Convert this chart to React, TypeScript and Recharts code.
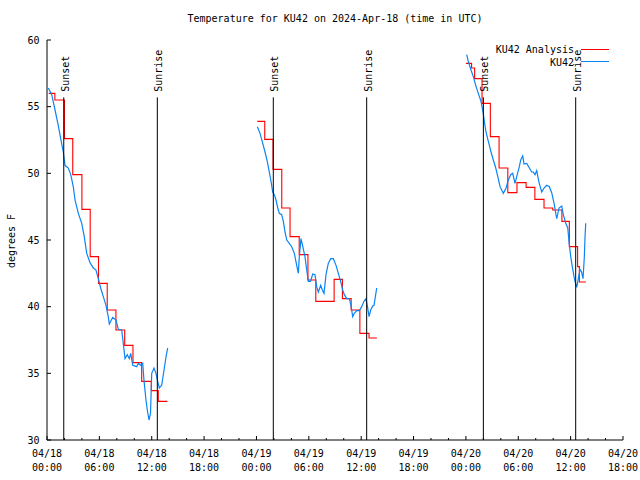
import React from 'react';
import { LineChart, Line, XAxis, YAxis, ReferenceLine } from 'recharts';

// hours since 04/18 00:00 UTC, one pair of arrays per night
const obsHours1 = [0.15, 0.54, 0.92, 1.29, 1.57, 1.87, 2.06, 2.44, 2.72, 3.01, 3.21, 3.59, 3.98, 4.27, 4.55, 4.93, 5.31, 5.61, 5.88, 6.15, 6.45, 6.76, 7.02, 7.14, 7.53, 7.91, 8.17, 8.56, 8.74, 8.94, 9.2, 9.43, 9.59, 9.82, 10.28, 10.46, 10.74, 10.97, 11.11, 11.34, 11.49, 11.69, 11.86, 12.0, 12.26, 12.49, 12.68, 12.87, 13.14, 13.41, 13.64, 13.83];
const obsTemps1 = [56.4, 55.9, 54.75, 53.6, 52.6, 51.6, 50.6, 50.4, 49.9, 49.0, 48.0, 47.0, 46.25, 45.25, 44.0, 43.3, 42.9, 42.75, 42.1, 41.4, 40.75, 40.1, 39.25, 38.7, 39.2, 39.0, 38.3, 38.25, 37.25, 36.1, 36.4, 36.1, 36.5, 35.6, 35.5, 35.75, 35.6, 35.75, 34.5, 33.0, 32.25, 31.5, 32.0, 35.0, 35.4, 35.0, 34.4, 33.9, 34.1, 35.25, 36.25, 36.9];

const obsHours2 = [24.1, 24.41, 24.72, 24.98, 25.24, 25.47, 25.67, 25.86, 26.05, 26.24, 26.44, 26.62, 26.89, 27.08, 27.27, 27.47, 27.76, 28.04, 28.34, 28.61, 28.8, 28.91, 29.1, 29.28, 29.56, 29.76, 29.94, 30.19, 30.45, 30.71, 30.9, 31.09, 31.36, 31.55, 31.74, 31.97, 32.23, 32.51, 32.81, 33.12, 33.38, 33.65, 33.88, 34.07, 34.34, 34.64, 34.83, 35.03, 35.21, 35.49, 35.79, 36.06, 36.32, 36.55, 36.75, 36.9, 37.09, 37.32, 37.47, 37.66, 37.78];
const obsTemps2 = [53.5, 53.0, 52.25, 51.6, 50.9, 50.1, 49.4, 48.6, 48.4, 48.0, 47.4, 47.0, 46.9, 46.4, 45.6, 45.0, 44.75, 44.5, 44.0, 43.1, 42.5, 43.75, 45.1, 44.6, 43.75, 42.75, 41.9, 41.9, 42.45, 42.4, 41.5, 41.1, 41.6, 41.25, 41.0, 42.4, 43.25, 43.6, 43.6, 43.1, 42.5, 41.9, 41.25, 40.9, 40.6, 40.6, 40.1, 39.25, 39.5, 39.7, 39.7, 40.0, 40.4, 40.6, 39.9, 39.25, 39.75, 40.05, 40.1, 40.9, 41.4];

const obsHours3 = [48.09, 48.27, 48.58, 48.85, 49.12, 49.42, 49.73, 49.99, 50.11, 50.3, 50.57, 50.88, 51.14, 51.42, 51.71, 51.91, 52.1, 52.29, 52.6, 52.86, 53.13, 53.36, 53.63, 53.82, 54.12, 54.28, 54.51, 54.66, 54.97, 55.27, 55.54, 55.72, 55.92, 56.11, 56.38, 56.69, 56.95, 57.26, 57.56, 57.83, 58.1, 58.32, 58.41, 58.67, 58.98, 59.16, 59.44, 59.67, 59.81, 60.01, 60.19, 60.39, 60.5, 60.7, 60.88, 61.07, 61.25, 61.42, 61.57, 61.65, 61.73];
const obsTemps3 = [58.9, 58.4, 57.75, 57.25, 56.6, 56.0, 55.4, 54.5, 53.9, 53.1, 52.4, 51.6, 51.0, 50.4, 49.6, 49.0, 48.75, 48.5, 48.9, 49.5, 49.9, 50.0, 49.25, 49.75, 50.5, 51.0, 51.3, 50.7, 50.75, 50.4, 50.1, 50.1, 49.9, 50.2, 49.3, 48.6, 48.9, 49.1, 49.0, 48.55, 47.75, 46.9, 46.6, 47.4, 47.55, 46.9, 46.25, 45.9, 44.9, 43.75, 43.0, 42.25, 41.9, 41.45, 42.1, 42.8, 42.6, 42.1, 43.75, 45.25, 46.25];

// hourly analysis (drawn as steps)
const anaHours1 = [0.2, 0.9, 2.0, 2.95, 4.0, 4.95, 5.9, 6.9, 7.9, 8.9, 9.85, 10.85, 11.95, 12.75, 13.8];
const anaTemps1 = [56.0, 55.5, 52.6, 49.9, 47.3, 43.75, 41.75, 39.75, 38.25, 37.1, 35.8, 34.4, 33.7, 32.9, 32.9];
const anaHours2 = [24.1, 24.95, 25.9, 26.9, 27.85, 28.9, 29.9, 30.8, 32.9, 33.85, 34.85, 35.85, 36.9, 37.8];
const anaTemps2 = [53.9, 52.55, 50.3, 47.4, 45.25, 43.9, 42.0, 40.4, 42.05, 40.6, 39.75, 38.0, 37.65, 37.65];
const anaHours3 = [48.0, 48.65, 49.0, 49.85, 50.8, 51.8, 52.8, 53.85, 54.9, 55.9, 56.95, 57.95, 59.0, 59.85, 60.8, 61.0, 61.75];
const anaTemps3 = [58.25, 57.9, 57.1, 55.25, 52.75, 50.4, 48.55, 49.3, 48.95, 48.05, 47.4, 47.25, 46.4, 44.5, 43.0, 41.85, 41.85];

const sunHours = [1.92, 12.64, 25.93, 36.63, 50.0, 60.58];
const sunLabels = ['Sunset', 'Sunrise', 'Sunset', 'Sunrise', 'Sunset', 'Sunrise'];
const sunLineTop = 55.7;

const xTicks = [0, 2, 4, 6, 8, 10, 12, 14, 16, 18, 20, 22, 24, 26, 28, 30, 32, 34, 36, 38, 40, 42, 44, 46, 48, 50, 52, 54, 56, 58, 60, 62, 64, 66];
const yTicks = [30, 35, 40, 45, 50, 55, 60];
const dayLabels = ['04/18', '04/19', '04/20'];

const FONT = '"DejaVu Sans Mono", "Liberation Mono", monospace';
const RED = '#ff0000';
const BLUE = '#0a84f5';

type Pt = { hour: number; temp: number | null };

const joinNights = (hours: number[][], temps: number[][]): Pt[] => {
  const out: Pt[] = [];
  hours.forEach((hs, i) => {
    if (i > 0) {
      const prev = hours[i - 1];
      out.push({ hour: (prev[prev.length - 1] + hs[0]) / 2, temp: null });
    }
    hs.forEach((h, j) => out.push({ hour: h, temp: temps[i][j] }));
  });
  return out;
};

const observed = joinNights([obsHours1, obsHours2, obsHours3], [obsTemps1, obsTemps2, obsTemps3]);
const analysis = joinNights([anaHours1, anaHours2, anaHours3], [anaTemps1, anaTemps2, anaTemps3]);

const pad = (n: number) => (n < 10 ? '0' + n : '' + n);

const BottomTick = (props: any) => {
  const { x, y, payload } = props;
  const h = payload.value as number;
  const major = h % 6 === 0;
  return (
    <g>
      <line x1={x} x2={x} y1={y} y2={y - (major ? 4 : 2)} stroke="#000" />
      {major && (
        <text x={x} y={y + 17} textAnchor="middle" fontSize={10} fontFamily={FONT} fill="#000">
          {dayLabels[Math.floor(h / 24)]}
        </text>
      )}
      {major && (
        <text x={x} y={y + 31} textAnchor="middle" fontSize={10} fontFamily={FONT} fill="#000">
          {pad(h % 24) + ':00'}
        </text>
      )}
    </g>
  );
};

const TopTick = (props: any) => {
  const { x, y, payload } = props;
  const major = (payload.value as number) % 6 === 0;
  return <line x1={x} x2={x} y1={y} y2={y + (major ? 4 : 2)} stroke="#000" />;
};

const LeftTick = (props: any) => {
  const { x, y, payload } = props;
  return (
    <g>
      <line x1={x} x2={x + 4} y1={y} y2={y} stroke="#000" />
      <text x={x - 7.5} y={y} dy="0.35em" textAnchor="end" fontSize={10} fontFamily={FONT} fill="#000">
        {payload.value}
      </text>
    </g>
  );
};

const RightTick = (props: any) => {
  const { x, y } = props;
  return <line x1={x} x2={x - 4} y1={y} y2={y} stroke="#000" />;
};

const SunLabel = (props: any) => {
  const { viewBox, text } = props;
  if (!viewBox) return null;
  const lx = viewBox.x + 5;
  const ly = viewBox.y - 5.5;
  return (
    <text
      x={lx}
      y={ly}
      transform={`rotate(-90, ${lx}, ${ly})`}
      textAnchor="start"
      fontSize={10}
      fontFamily={FONT}
      fill="#000"
    >
      {text}
    </text>
  );
};

const textStyle: React.CSSProperties = {
  position: 'absolute',
  fontFamily: FONT,
  fontSize: 10,
  lineHeight: '12px',
  color: '#000',
  whiteSpace: 'nowrap',
};

export default function App() {
  return (
    <div style={{ position: 'absolute', left: 0, top: 0, width: 640, height: 480, background: '#fff' }}>
      <LineChart width={640} height={480} data={observed} margin={{ top: 40, right: 17, bottom: 0, left: 0 }}>
        <XAxis
          dataKey="hour"
          type="number"
          domain={[0, 66]}
          ticks={xTicks}
          interval={0}
          height={40}
          tickSize={0}
          tickMargin={0}
          tick={<BottomTick />}
          axisLine={{ stroke: '#000' }}
          allowDataOverflow
        />
        <XAxis
          xAxisId="top"
          orientation="top"
          dataKey="hour"
          type="number"
          domain={[0, 66]}
          ticks={xTicks}
          interval={0}
          height={0}
          tickSize={0}
          tickMargin={0}
          tick={<TopTick />}
          axisLine={{ stroke: '#000' }}
          allowDataOverflow
        />
        <YAxis
          type="number"
          domain={[30, 60]}
          ticks={yTicks}
          interval={0}
          width={47}
          tickSize={0}
          tickMargin={0}
          tick={<LeftTick />}
          axisLine={{ stroke: '#000' }}
          allowDataOverflow
        />
        <YAxis
          yAxisId="right"
          orientation="right"
          type="number"
          domain={[30, 60]}
          ticks={yTicks}
          interval={0}
          width={0}
          tickSize={0}
          tickMargin={0}
          tick={<RightTick />}
          axisLine={{ stroke: '#000' }}
          allowDataOverflow
        />
        <Line
          data={analysis}
          dataKey="temp"
          type="stepAfter"
          stroke={RED}
          strokeWidth={1.1}
          dot={false}
          activeDot={false}
          isAnimationActive={false}
        />
        <Line
          data={observed}
          dataKey="temp"
          type="linear"
          stroke={BLUE}
          strokeWidth={1.2}
          dot={false}
          activeDot={false}
          isAnimationActive={false}
        />
        {sunHours.map((h, i) => (
          <ReferenceLine
            key={i}
            segment={[
              { x: h, y: 30 },
              { x: h, y: sunLineTop },
            ]}
            stroke="#000"
            strokeWidth={1}
            label={<SunLabel text={sunLabels[i]} />}
          />
        ))}
      </LineChart>

      <div style={{ ...textStyle, left: 335, top: 13, transform: 'translateX(-50%)' }}>
        Temperature for KU42 on 2024-Apr-18 (time in UTC)
      </div>
      <div style={{ ...textStyle, left: 12, top: 241, transform: 'translate(-50%, -50%) rotate(-90deg)' }}>
        degrees F
      </div>

      <div style={{ ...textStyle, left: 374, width: 200, top: 44, textAlign: 'right' }}>KU42 Analysis</div>
      <div style={{ ...textStyle, left: 374, width: 200, top: 57, textAlign: 'right' }}>KU42</div>
      <svg width={640} height={480} style={{ position: 'absolute', left: 0, top: 0, pointerEvents: 'none' }}>
        <line x1={581} x2={609} y1={49.5} y2={49.5} stroke={RED} strokeWidth={1} />
        <line x1={581} x2={609} y1={61.5} y2={61.5} stroke={BLUE} strokeWidth={1} />
      </svg>
    </div>
  );
}
